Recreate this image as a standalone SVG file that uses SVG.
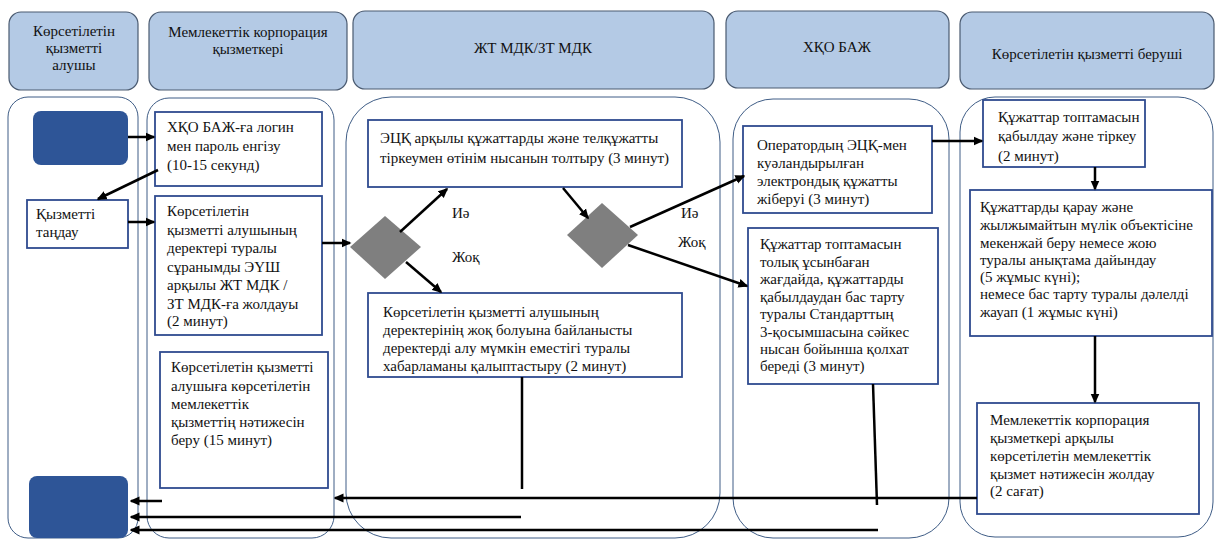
<svg xmlns="http://www.w3.org/2000/svg" width="1217" height="540" viewBox="0 0 1217 540">
<defs>
<marker id="ah" viewBox="0 0 10 10" refX="8.5" refY="5" markerWidth="10" markerHeight="10" markerUnits="userSpaceOnUse" orient="auto"><path d="M0,0.5 L10,5 L0,9.5 z" fill="#000"/></marker>
<style>
.hdr{fill:#b4cae5;stroke:#4a5a70;stroke-width:1.2}
.lane{fill:#fff;stroke:#3f5d86;stroke-width:1}
.box{fill:#fff;stroke:#2f4b8f;stroke-width:1.8}
.term{fill:#2e5597}
.dia{fill:#7f7f7f}
text{font-family:"Liberation Serif","DejaVu Serif",serif;font-size:15px;fill:#111}
.h{text-anchor:middle}
.c line{stroke:#000;stroke-width:2.5;fill:none}
.c .a{marker-end:url(#ah)}
</style>
</defs>
<rect width="1217" height="540" fill="#fff"/>

<g id="lanes">
<rect class="lane" x="8" y="97" width="130" height="441" rx="20"/>
<rect class="lane" x="147" y="98" width="187" height="440" rx="22"/>
<rect class="lane" x="346" y="97" width="374" height="441" rx="45"/>
<rect class="lane" x="733" y="99" width="216" height="439" rx="40"/>
<rect class="lane" x="960" y="97" width="253" height="440" rx="35"/>
</g>

<g id="headers">
<g id="h1"><rect class="hdr" x="9" y="12" width="129" height="78" rx="12"/>
<text class="h" x="74" y="36">Көрсетілетін</text><text class="h" x="74" y="53">қызметті</text><text class="h" x="74" y="70">алушы</text></g>
<g id="h2"><rect class="hdr" x="149" y="12" width="198" height="78" rx="12"/>
<text class="h" x="248" y="37">Мемлекеттік корпорация</text><text class="h" x="248" y="54">қызметкері</text></g>
<g id="h3"><rect class="hdr" x="353" y="11" width="361" height="78" rx="12"/>
<text class="h" x="533" y="53">ЖТ МДК/ЗТ МДК</text></g>
<g id="h4"><rect class="hdr" x="726" y="11" width="223" height="77" rx="12"/>
<text class="h" x="837" y="52">ХҚО БАЖ</text></g>
<g id="h5"><rect class="hdr" x="960" y="12" width="254" height="77" rx="12"/>
<text class="h" x="1087" y="59">Көрсетілетін қызметті беруші</text></g>
</g>

<g id="start"><rect class="term" x="33" y="111" width="95" height="54" rx="8"/></g>
<g id="end"><rect class="term" x="29" y="476" width="99" height="62" rx="8"/></g>

<g id="choose"><rect class="box" x="27" y="200" width="101" height="48"/>
<text x="36" y="219">Қызметті</text><text x="36" y="237">таңдау</text></g>

<g id="login"><rect class="box" x="155" y="112" width="167" height="74"/>
<text x="167" y="132">ХҚО БАЖ-ға логин</text><text x="167" y="151">мен пароль енгізу</text><text x="167" y="170">(10-15 секунд)</text></g>

<g id="request"><rect class="box" x="155" y="196" width="167" height="139"/>
<text x="167" y="216">Көрсетілетін</text><text x="167" y="234.5">қызметті алушының</text><text x="167" y="253">деректері туралы</text><text x="167" y="271.5">сұранымды ЭҮШ</text><text x="167" y="290">арқылы ЖТ МДК /</text><text x="167" y="308.5">ЗТ МДК-ға жолдауы</text><text x="167" y="326">(2 минут)</text></g>

<g id="result"><rect class="box" x="160" y="352" width="168" height="136"/>
<text x="171" y="372">Көрсетілетін қызметті</text><text x="171" y="390.5">алушыға көрсетілетін</text><text x="171" y="409">мемлекеттік</text><text x="171" y="427">қызметтің нәтижесін</text><text x="171" y="445">беру (15 минут)</text></g>

<g id="fill"><rect class="box" x="368" y="120" width="314" height="67"/>
<text x="380" y="143">ЭЦҚ арқылы құжаттарды және телқұжатты</text><text x="380" y="163">тіркеумен өтінім нысанын толтыру (3 минут)</text></g>

<g id="d1"><polygon class="dia" points="385,216 421,247 385,279 350,247"/></g>
<g id="d2"><polygon class="dia" points="602,203 638,235 602,268 567,235"/></g>

<g id="nodata"><rect class="box" x="368" y="293" width="314" height="84"/>
<text x="383" y="317">Көрсетілетін қызметті алушының</text><text x="383" y="335">деректерінің жоқ болуына байланысты</text><text x="383" y="353">деректерді алу мүмкін еместігі туралы</text><text x="383" y="371">хабарламаны қалыптастыру (2 минут)</text></g>

<g id="send"><rect class="box" x="743" y="126" width="189" height="87"/>
<text x="757" y="150">Оператордың ЭЦҚ-мен</text><text x="757" y="168">куәландырылған</text><text x="757" y="186">электрондық құжатты</text><text x="757" y="204">жіберуі (3 минут)</text></g>

<g id="refuse"><rect class="box" x="748" y="228" width="190" height="156"/>
<text x="760" y="249">Құжаттар топтамасын</text><text x="760" y="266.5">толық ұсынбаған</text><text x="760" y="284">жағдайда, құжаттарды</text><text x="760" y="301.5">қабылдаудан бас тарту</text><text x="760" y="319">туралы Стандарттың</text><text x="760" y="336.5">3-қосымшасына сәйкес</text><text x="760" y="354">нысан бойынша қолхат</text><text x="760" y="371">береді (3 минут)</text></g>

<g id="accept"><rect class="box" x="983" y="100" width="162" height="67"/>
<text x="998" y="122">Құжаттар топтамасын</text><text x="998" y="141">қабылдау және тіркеу</text><text x="998" y="161">(2 минут)</text></g>

<g id="review"><rect class="box" x="970" y="190" width="242" height="146"/>
<text x="980" y="212">Құжаттарды қарау және</text><text x="980" y="230">жылжымайтын мүлік объектісіне</text><text x="980" y="247.5">мекенжай беру немесе жою</text><text x="980" y="265">туралы анықтама дайындау</text><text x="980" y="282">(5 жұмыс күні);</text><text x="980" y="299">немесе бас тарту туралы дәлелді</text><text x="980" y="317">жауап (1 жұмыс күні)</text></g>

<g id="deliver"><rect class="box" x="977" y="403" width="222" height="111"/>
<text x="990" y="425">Мемлекеттік корпорация</text><text x="990" y="443">қызметкері арқылы</text><text x="990" y="461">көрсетілетін мемлекеттік</text><text x="990" y="479">қызмет нәтижесін жолдау</text><text x="990" y="496">(2 сағат)</text></g>

<g id="labels">
<text x="452" y="218">Иә</text><text x="452" y="262">Жоқ</text>
<text x="681" y="218">Иә</text><text x="678" y="247">Жоқ</text>
</g>

<g id="connectors" class="c">
<line class="a" x1="128" y1="137" x2="154" y2="137"/>
<line class="a" x1="158" y1="170" x2="98" y2="199"/>
<line class="a" x1="128" y1="222" x2="154" y2="222"/>
<line class="a" x1="322" y1="243" x2="350" y2="243"/>
<line class="a" x1="400" y1="232" x2="447" y2="189"/>
<line class="a" x1="406" y1="262" x2="441" y2="292"/>
<line class="a" x1="563" y1="188" x2="588" y2="218"/>
<line class="a" x1="630" y1="227" x2="744" y2="176"/>
<line class="a" x1="628" y1="245" x2="747" y2="286"/>
<line class="a" x1="932" y1="141" x2="982" y2="141"/>
<line class="a" x1="1095" y1="167" x2="1095" y2="189"/>
<line class="a" x1="1095" y1="336" x2="1095" y2="402"/>
<line class="a" x1="977" y1="498" x2="335" y2="498"/>
<line class="a" x1="162" y1="501" x2="131" y2="501"/>
<line x1="522" y1="377" x2="522" y2="489"/>
<line class="a" x1="521" y1="517" x2="131" y2="517"/>
<line x1="873" y1="384" x2="877" y2="505"/>
<line class="a" x1="878" y1="530" x2="131" y2="530"/>
</g>
</svg>
